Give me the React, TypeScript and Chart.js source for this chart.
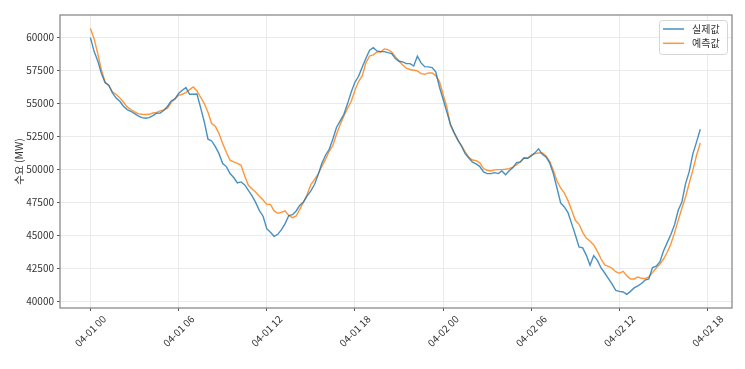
import React, { useEffect, useRef } from 'react';
import { Chart, registerables } from 'chart.js';

Chart.register(...registerables);

// ---- data ----
const seriesNames = ['실제값', '예측값'];
const stepHours = 0.25; // 15-minute samples, starting 04-01 00:00
const xTickHours = [0, 6, 12, 18, 24, 30, 36, 42];
const xTickLabels = ['04-01 00', '04-01 06', '04-01 12', '04-01 18', '04-02 00', '04-02 06', '04-02 12', '04-02 18'];
const yTickValues = [40000, 42500, 45000, 47500, 50000, 52500, 55000, 57500, 60000];
const yTitle = '수요 (MW)';

const actual = [
  60000, 58960, 58230, 57270, 56570, 56390, 55810, 55430, 55180, 54800, 54550, 54420,
  54240, 54070, 53940, 53890, 53940, 54090, 54270, 54290, 54500, 54800, 55200, 55350,
  55760, 56010, 56210, 55710, 55710, 55730, 54700, 53610, 52300, 52170, 51740, 51210,
  50460, 50230, 49700, 49400, 48990, 49070, 48840, 48430, 48010, 47500, 46900, 46470,
  45530, 45250, 44950, 45100, 45460, 45910, 46520, 46590, 46870, 47300, 47550, 48010,
  48390, 48870, 49620, 50480, 51090, 51540, 52320, 53210, 53690, 54190, 55000, 55880,
  56620, 57070, 57780, 58430, 59040, 59240, 58990, 58940, 58940, 58860, 58790, 58410,
  58210, 58160, 58030, 58030, 57850, 58590, 58080, 57800, 57780, 57730, 57400, 56260,
  55330, 54370, 53440, 52800, 52270, 51770, 51210, 50880, 50560, 50430, 50230, 49820,
  49700, 49700, 49770, 49700, 49900, 49620, 49920, 50150, 50530, 50580, 50880, 50860,
  51040, 51270, 51570, 51160, 50960, 50510, 49700, 48610, 47480, 47170, 46740, 45910,
  45050, 44140, 44070, 43510, 42750, 43490, 43130, 42550, 42170, 41740, 41320, 40860,
  40780, 40730, 40550, 40780, 41040, 41190, 41370, 41640, 41720, 42580, 42680, 43010,
  43840, 44470, 45080, 45830, 46920, 47550, 48940, 49850, 51210, 52100, 53060,
];

const predicted = [
  60680, 59920, 58790, 57530, 56640, 56360, 55880, 55710, 55430, 55100, 54750, 54550,
  54370, 54240, 54190, 54170, 54190, 54290, 54340, 54450, 54520, 54650, 55100, 55350,
  55630, 55710, 55830, 56060, 56260, 55960, 55480, 55000, 54340, 53490, 53280, 52730,
  51970, 51310, 50710, 50580, 50480, 50330, 49520, 48810, 48540, 48280, 47980, 47700,
  47370, 47370, 46870, 46690, 46770, 46870, 46520, 46360, 46490, 46990, 47550, 48110,
  48870, 49240, 49670, 50250, 50780, 51390, 51840, 52700, 53410, 54070, 54650, 55180,
  56010, 56670, 57120, 58110, 58610, 58690, 58910, 58910, 59140, 59090, 58910, 58560,
  58230, 57930, 57680, 57580, 57530, 57480, 57270, 57220, 57320, 57320, 57120, 56670,
  55710, 54750, 53360, 52780, 52220, 51840, 51340, 50940, 50730, 50680, 50510, 50080,
  49950, 49900, 49980, 50000, 50000, 50030, 50080, 50180, 50380, 50580, 50880, 50860,
  51090, 51210, 51260, 51260, 51060, 50630, 49950, 49140, 48610, 48230, 47650, 46920,
  46160, 45860, 45250, 44800, 44600, 44290, 43810, 43230, 42780, 42680, 42530, 42270,
  42150, 42300, 41970, 41720, 41720, 41870, 41770, 41740, 41870, 42200, 42550, 42830,
  43230, 43740, 44370, 45210, 46160, 47070, 47930, 48970, 49980, 51090, 52020,
];

const COLORS = ['rgba(31,119,180,0.82)', 'rgba(255,127,14,0.82)'];
const FONT = '"Noto Sans CJK KR", "Noto Sans", sans-serif';

const overlayPlugin = {
  id: 'overlay',
  afterDraw(chart: any) {
    const { ctx, chartArea: a, scales } = chart;
    ctx.save();
    // frame
    ctx.strokeStyle = '#8a8a8a';
    ctx.lineWidth = 1.3;
    ctx.strokeRect(a.left, a.top, a.right - a.left, a.bottom - a.top);
    // x tick labels (rotated, centred on tick)
    ctx.fillStyle = '#333';
    ctx.font = `10px ${FONT}`;
    ctx.textAlign = 'center';
    ctx.textBaseline = 'middle';
    xTickHours.forEach((h, i) => {
      const x = scales.x.getPixelForValue(h);
      ctx.save();
      ctx.translate(x, a.bottom + 23);
      ctx.rotate(-Math.PI / 4);
      ctx.fillText(xTickLabels[i], 0, 0);
      ctx.restore();
    });
    // legend
    const lx = a.right - 73;
    const ly = a.top + 5;
    const lw = 68;
    const lh = 34;
    ctx.beginPath();
    ctx.roundRect(lx + 0.5, ly + 0.5, lw, lh, 3);
    ctx.fillStyle = 'rgba(255,255,255,0.85)';
    ctx.fill();
    ctx.strokeStyle = '#d5d5d5';
    ctx.lineWidth = 1;
    ctx.stroke();
    seriesNames.forEach((name, i) => {
      const y = ly + 9 + i * 14.3;
      ctx.strokeStyle = COLORS[i];
      ctx.lineWidth = 1.5;
      ctx.beginPath();
      ctx.moveTo(lx + 4, y);
      ctx.lineTo(lx + 25, y);
      ctx.stroke();
      ctx.fillStyle = '#333';
      ctx.textAlign = 'left';
      ctx.textBaseline = 'middle';
      ctx.fillText(name, lx + 33, y);
    });
    ctx.restore();
  },
};

export default function App() {
  const canvasRef = useRef<HTMLCanvasElement | null>(null);

  useEffect(() => {
    const canvas = canvasRef.current;
    if (!canvas) return;
    Chart.defaults.font.family = FONT;
    Chart.defaults.font.size = 10;
    Chart.defaults.color = '#333';

    const hours = actual.map((_, i) => i * stepHours);
    const chart = new Chart(canvas, {
      type: 'line',
      data: {
        datasets: [
          {
            label: seriesNames[0],
            data: hours.map((h, i) => ({ x: h, y: actual[i] })),
            borderColor: COLORS[0],
            borderWidth: 1.4,
            pointRadius: 0,
            tension: 0,
            fill: false,
          },
          {
            label: seriesNames[1],
            data: hours.map((h, i) => ({ x: h, y: predicted[i] })),
            borderColor: COLORS[1],
            borderWidth: 1.4,
            pointRadius: 0,
            tension: 0,
            fill: false,
          },
        ],
      },
      options: {
        animation: false,
        responsive: false,
        maintainAspectRatio: false,
        layout: { padding: { top: 15, right: 13, left: 0, bottom: 0 } },
        plugins: {
          legend: { display: false },
          tooltip: { enabled: false },
        },
        scales: {
          x: {
            type: 'linear',
            bounds: 'data',
            min: -2.07,
            max: 43.66,
            afterBuildTicks: (s: any) => {
              s.ticks = xTickHours.map((v) => ({ value: v }));
            },
            afterFit: (s: any) => {
              s.height = 61;
            },
            ticks: { display: false },
            grid: { color: '#ebebeb', lineWidth: 1, tickLength: 3, tickColor: '#555', drawTicks: true },
            border: { display: false },
          },
          y: {
            type: 'linear',
            bounds: 'data',
            min: 39520,
            max: 61710,
            afterBuildTicks: (s: any) => {
              s.ticks = yTickValues.map((v) => ({ value: v }));
            },
            afterFit: (s: any) => {
              s.width = 60;
            },
            ticks: {
              padding: 3,
              color: '#333',
              font: { size: 10 },
              callback: (v: any) => String(v),
            },
            grid: { color: '#ebebeb', lineWidth: 1, tickLength: 3, tickColor: '#555', drawTicks: true },
            border: { display: false },
            title: {
              display: true,
              text: yTitle,
              color: '#333',
              font: { size: 10.5 },
              padding: { top: 13, bottom: 0 },
            },
          },
        },
      },
      plugins: [overlayPlugin],
    });
    return () => chart.destroy();
  }, []);

  return (
    <div style={{ position: 'fixed', left: 0, top: 0, width: 745, height: 369, background: '#fff' }}>
      <canvas ref={canvasRef} width={745} height={369} style={{ display: 'block' }} />
    </div>
  );
}
